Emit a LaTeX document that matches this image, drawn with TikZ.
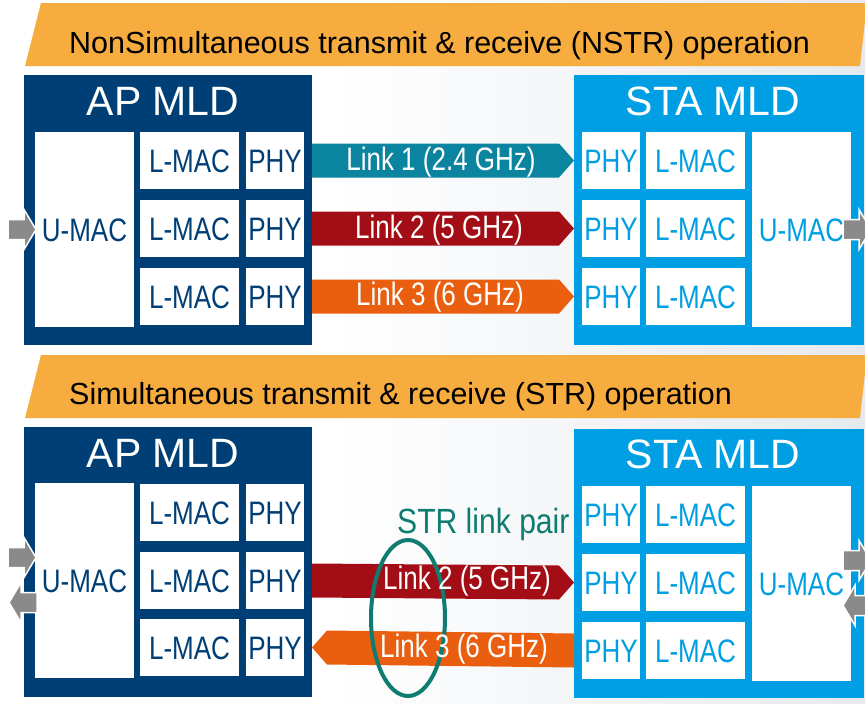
\documentclass[tikz,border=0pt]{standalone}
\usepackage{fontspec}
\setmainfont{Liberation Sans}
\newfontfamily\narrowfam{Liberation Sans}[FakeStretch=0.8]
\newfontfamily\pairfam{Liberation Sans}[FakeStretch=0.86]
\usetikzlibrary{calc,shapes.geometric}
\definecolor{apblue}{HTML}{003F76}
\definecolor{stablue}{HTML}{009FE3}
\definecolor{bannerorange}{HTML}{F7AC40}
\definecolor{linkteal}{HTML}{0B84A0}
\definecolor{linkred}{HTML}{A30E16}
\definecolor{linkorange}{HTML}{E95F0F}
\definecolor{pairteal}{HTML}{0E7C70}
\definecolor{arrowgray}{HTML}{8A8A8A}
\definecolor{bgright}{HTML}{E6EAEE}
\newcommand\cellfnt{\narrowfam\fontsize{32.5}{34}\selectfont}
\newcommand\mldfnt{\fontsize{41}{43}\selectfont}
\newcommand\bannerfnt{\fontsize{30.5}{32}\selectfont}
\newcommand\pairfnt{\pairfam\fontsize{35}{36}\selectfont}
% gray arrow pointing right, given its tail centre
\newcommand\grayR[1]{\filldraw[grayarrow] #1 ++(0,-10) -- ++(16,0) -- ++(0,-10) -- ++(12,20) -- ++(-12,20) -- ++(0,-10) -- ++(-16,0) -- cycle;}
% gray arrow pointing left, given its tip
\newcommand\grayL[1]{\filldraw[grayarrow] #1 -- ++(12,-20) -- ++(0,10) -- ++(16,0) -- ++(0,20) -- ++(-16,0) -- ++(0,10) -- cycle;}
% link band arrow pointing right: start, tip
\newcommand\linkR[3]{\fill[#3] ($#1+(0,-17)$) -- ($#2+(-15,-17)$) -- #2 -- ($#2+(-15,17)$) -- ($#1+(0,17)$) -- cycle;}
% link band arrow pointing left: tip, end
\newcommand\linkL[3]{\fill[#3] #1 -- ($#1+(15,-17)$) -- ($#2+(0,-17)$) -- ($#2+(0,17)$) -- ($#1+(15,17)$) -- cycle;}
\begin{document}
\begin{tikzpicture}[x=1pt,y=-1pt,
  panel/.style={anchor=north west, inner sep=0pt, outer sep=0pt},
  cell/.style={anchor=north west, fill=white, inner sep=0pt, outer sep=0pt,
    font=\cellfnt, text height=23.3pt, text depth=0pt},
  apcell/.style={cell, text=apblue},
  stacell/.style={cell, text=stablue},
  wide/.style={minimum width=99pt},
  narrow/.style={minimum width=58pt},
  rowh/.style={minimum height=57pt},
  tall/.style={minimum height=195pt},
  mldtitle/.style={text=white, font=\mldfnt, inner sep=0pt},
  bannerbox/.style={fill=bannerorange},
  bannertext/.style={anchor=base west, font=\bannerfnt, inner sep=0pt, text=black},
  linktext/.style={anchor=base, text=white, font=\cellfnt, inner sep=0pt},
  grayarrow/.style={fill=arrowgray, draw=white, line width=1.5pt, line join=miter},
]
\useasboundingbox (0,0) rectangle (865,704);
\clip (0,0) rectangle (865,704);
\fill[white] (0,0) rectangle (865,704);
\shade[left color=white, right color=bgright] (330,0) rectangle (865,704);

% ---------------- banners
\fill[bannerbox] (41,3) -- (867,3) -- (860,66) -- (25,66) -- cycle;
\node[bannertext] (bannerA) at (69,53) {NonSimultaneous transmit \& receive (NSTR) operation};
\fill[bannerbox] (41,355) -- (867,355) -- (860,418) -- (25,418) -- cycle;
\node[bannertext] (bannerB) at (69,404) {Simultaneous transmit \& receive (STR) operation};

% ================= NSTR panel
\node[panel, fill=apblue, minimum width=288pt, minimum height=270pt] (apA) at (24,75) {};
\node[mldtitle] (apAtitle) at (163,101) {AP MLD};
\node[apcell, wide, tall] (umacA) at (35,132) {U-MAC};
\node[apcell, wide, rowh] (lmacA1) at (140,132) {L-MAC};
\node[apcell, wide, rowh] (lmacA2) at (140,200) {L-MAC};
\node[apcell, wide, rowh] (lmacA3) at (140,268) {L-MAC};
\node[apcell, narrow, rowh] (phyA1) at (246,132) {PHY};
\node[apcell, narrow, rowh] (phyA2) at (246,200) {PHY};
\node[apcell, narrow, rowh] (phyA3) at (246,268) {PHY};

\node[panel, fill=stablue, minimum width=290pt, minimum height=270pt] (staA) at (574,75) {};
\node[mldtitle] (staAtitle) at (713,101) {STA MLD};
\node[stacell, narrow, rowh] (phySA1) at (582,132) {PHY};
\node[stacell, narrow, rowh] (phySA2) at (582,200) {PHY};
\node[stacell, narrow, rowh] (phySA3) at (582,268) {PHY};
\node[stacell, wide, rowh] (lmacSA1) at (646,132) {L-MAC};
\node[stacell, wide, rowh] (lmacSA2) at (646,200) {L-MAC};
\node[stacell, wide, rowh] (lmacSA3) at (646,268) {L-MAC};
\node[stacell, wide, tall] (umacSA) at (752,132) {U-MAC};

\linkR{(phyA1.east -| apA.east)}{(phySA1.west -| staA.west)}{linkteal}
\linkR{(phyA2.east -| apA.east)}{(phySA2.west -| staA.west)}{linkred}
\linkR{(phyA3.east -| apA.east)}{(phySA3.west -| staA.west)}{linkorange}
\node[linktext] (l1A) at (441,170) {Link 1 (2.4 GHz)};
\node[linktext] (l2A) at (439,238) {Link 2 (5 GHz)};
\node[linktext] (l3A) at (440,305) {Link 3 (6 GHz)};

\grayR{($(umacA.west)+(-27,0)$)}
\grayR{($(umacSA.east)+(-8,0)$)}

% ================= STR panel
\node[panel, fill=apblue, minimum width=288pt, minimum height=270pt] (apB) at (24,427) {};
\node[mldtitle] (apBtitle) at (163,453) {AP MLD};
\node[apcell, wide, tall] (umacB) at (35,483) {U-MAC};
\node[apcell, wide, rowh] (lmacB1) at (140,484) {L-MAC};
\node[apcell, wide, rowh] (lmacB2) at (140,552) {L-MAC};
\node[apcell, wide, rowh] (lmacB3) at (140,619) {L-MAC};
\node[apcell, narrow, rowh] (phyB1) at (246,484) {PHY};
\node[apcell, narrow, rowh] (phyB2) at (246,552) {PHY};
\node[apcell, narrow, rowh] (phyB3) at (246,619) {PHY};

\node[panel, fill=stablue, minimum width=290pt, minimum height=269pt] (staB) at (574,429) {};
\node[mldtitle] (staBtitle) at (713,454) {STA MLD};
\node[stacell, narrow, rowh] (phySB1) at (582,486) {PHY};
\node[stacell, narrow, rowh] (phySB2) at (582,554) {PHY};
\node[stacell, narrow, rowh] (phySB3) at (582,622) {PHY};
\node[stacell, wide, rowh] (lmacSB1) at (646,486) {L-MAC};
\node[stacell, wide, rowh] (lmacSB2) at (646,554) {L-MAC};
\node[stacell, wide, rowh] (lmacSB3) at (646,622) {L-MAC};
\node[stacell, wide, tall] (umacSB) at (752,486) {U-MAC};

\linkR{(phyB2.east -| apB.east)}{(phySB2.west -| staB.west)}{linkred}
\linkL{(phyB3.east -| apB.east)}{(phySB3.west -| staB.west)}{linkorange}
\node[draw=pairteal, line width=4pt, ellipse, inner sep=0pt,
      minimum width=74pt, minimum height=156pt] (pair) at (408,618) {};
\node[linktext] (l2B) at (467,589) {Link 2 (5 GHz)};
\node[linktext] (l3B) at (464,657) {Link 3 (6 GHz)};
\node[anchor=base west, inner sep=0pt, font=\pairfnt, text=pairteal] (pairlabel) at (397,533) {STR link pair};

\grayR{($(umacB.west)+(-27,-23)$)}
\grayL{($(umacB.west)+(-26,22)$)}
\grayR{($(umacSB.east)+(-8,-23)$)}
\grayL{($(umacSB.east)+(-8,22)$)}
\end{tikzpicture}
\end{document}
